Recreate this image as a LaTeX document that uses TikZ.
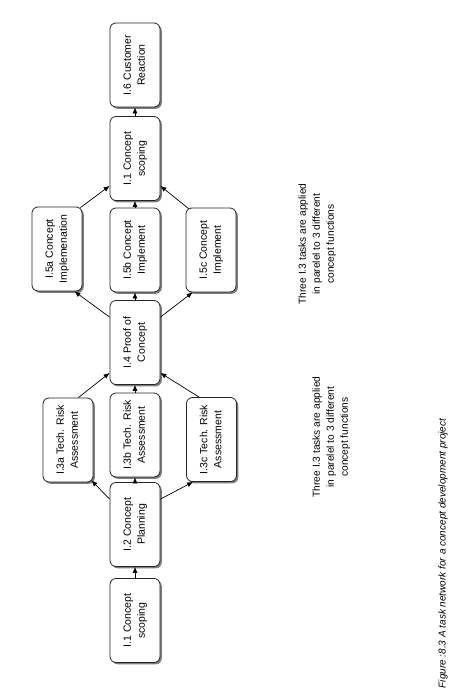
\documentclass[tikz,border=0pt]{standalone}
\usepackage{fontspec}
\setmainfont{Liberation Sans}
\usetikzlibrary{arrows.meta,shadows,calc}
\newcommand{\rtext}[1]{\rotatebox{90}{\begin{tabular}{@{}c@{}}#1\end{tabular}}}
\begin{document}
\begin{tikzpicture}[x=1pt,y=1pt,
  taskbox/.style={draw=black!85, line width=0.8pt, fill=white, rounded corners=6pt,
    minimum width=50pt, minimum height=84pt, inner sep=0pt,
    drop shadow={shadow xshift=1.8pt, shadow yshift=-1.8pt, fill=black!60, opacity=0.85},
    font=\fontsize{10.5}{14}\selectfont, text=black},
  conn/.style={-{Latex[length=6pt,width=5pt]}, line width=0.7pt, black},
  note/.style={inner sep=0pt, font=\fontsize{10.2}{14}\selectfont, text=black}]
\useasboundingbox (0,0) rectangle (472,697);

\node[taskbox] (I1b) at (135,76.5) {\rtext{I.1 Concept\\scoping}};
\node[taskbox] (I2)  at (135,172.5) {\rtext{I.2 Concept\\Planning}};
\node[taskbox] (I3a) at (68,257) {\rtext{I.3a Tech. Risk\\Assessment}};
\node[taskbox] (I3b) at (135,262) {\rtext{I.3b Tech. Risk\\Assessment}};
\node[taskbox] (I3c) at (211.5,257.5) {\rtext{I.3c Tech. Risk\\Assessment}};
\node[taskbox] (I4)  at (135,354.5) {\rtext{I.4 Proof of\\Concept}};
\node[taskbox] (I5a) at (57,448) {\rtext{I.5a Concept\\Implemenation}};
\node[taskbox] (I5b) at (135,447) {\rtext{I.5b Concept\\Implement}};
\node[taskbox] (I5c) at (211,447) {\rtext{I.5c Concept\\Implement}};
\node[taskbox] (I1t) at (135,538.5) {\rtext{I.1 Concept\\scoping}};
\node[taskbox] (I6)  at (135,632) {\rtext{I.6 Customer\\Reaction}};

\node[note] (n1) at (331,260) {\rtext{Three I.3 tasks are applied\\in parelel to 3 different\\concept functions}};
\node[note] (n2) at (317,453) {\rtext{Three I.3 tasks are applied\\in parelel to 3 different\\concept functions}};
\node[inner sep=0pt, font=\fontsize{10}{12}\selectfont\itshape, text=black] (cap) at (443,143.5)
  {\rotatebox{90}{Figure :8.3 A task network for a concept development project}};

% vertical connectors
\draw[conn] (I1b.north) -- (I2.south);
\draw[conn] (I2.north) -- (I3b.south);
\draw[conn] (I3b.north) -- (I4.south);
\draw[conn] (I4.north) -- (I5b.south);
\draw[conn] (I5b.north) -- (I1t.south);
\draw[conn] (I1t.north) -- (I6.south);
% diagonal connectors
\draw[conn] ($(I2.north west)+(0,-17)$) -- ($(I3a.south east)+(-2,2)$);
\draw[conn] ($(I2.north east)+(0,-17)$) -- ($(I3c.south west)+(7,0)$);
\draw[conn] ($(I3a.north east)+(-15,0)$) -- ($(I4.south west)+(0,12)$);
\draw[conn] ($(I3c.north west)+(13,0)$) -- ($(I4.south east)+(0,12)$);
\draw[conn] ($(I4.north west)+(0,-17)$) -- ($(I5a.south east)+(-8,0)$);
\draw[conn] ($(I4.north east)+(0,-17)$) -- ($(I5c.south west)+(7,0)$);
\draw[conn] ($(I5a.north east)+(-2,-1)$) -- ($(I1t.south west)+(0,15)$);
\draw[conn] ($(I5c.north west)+(3,-1)$) -- ($(I1t.south east)+(0,15)$);
\end{tikzpicture}
\end{document}
